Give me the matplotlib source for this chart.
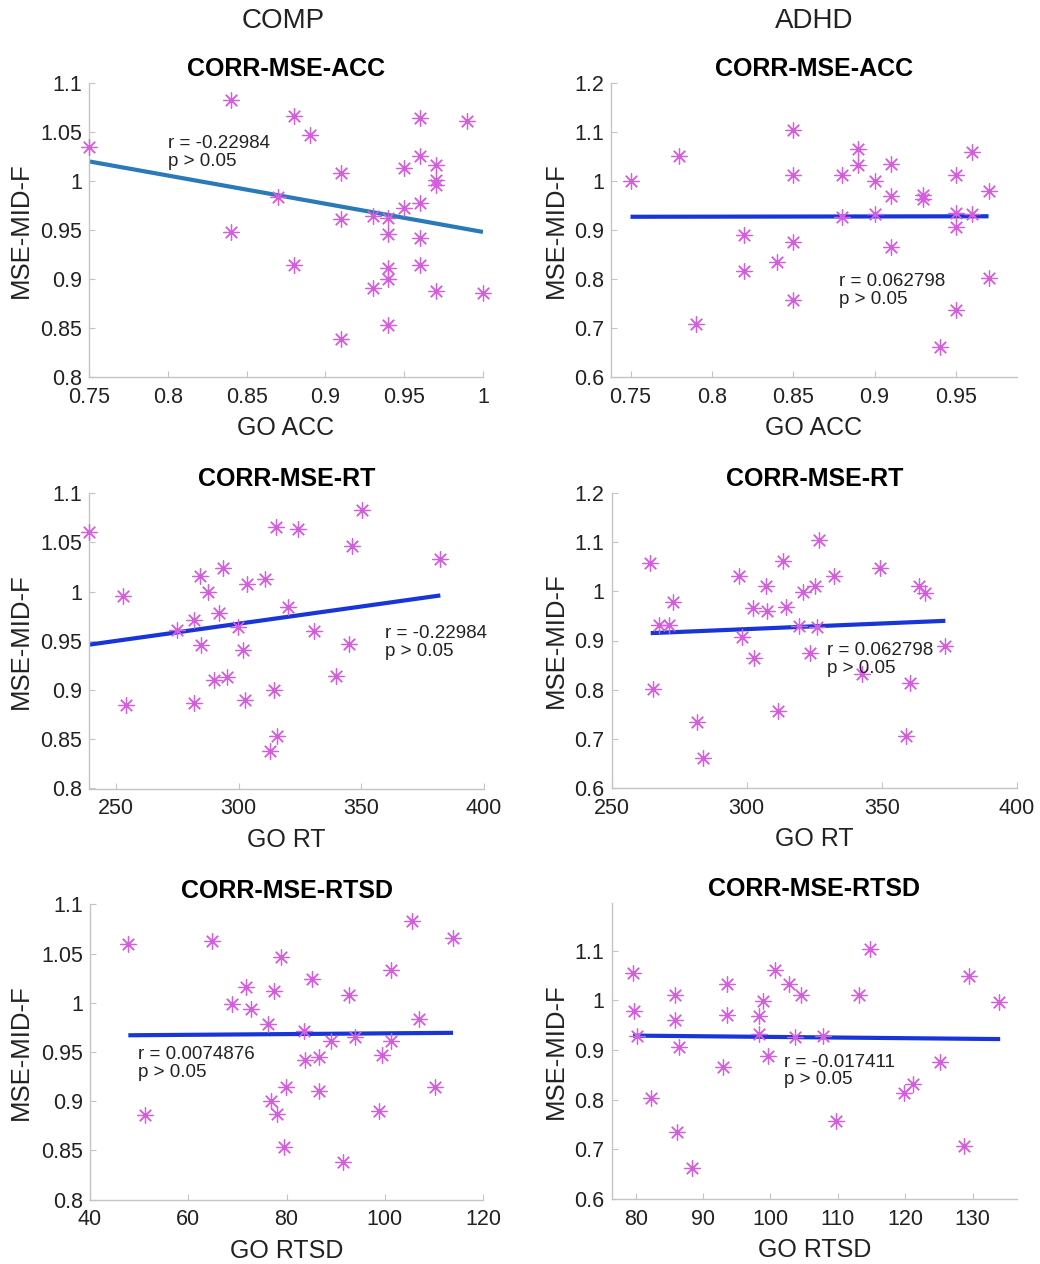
import matplotlib
matplotlib.use("Agg")
import matplotlib.pyplot as plt

plt.rcParams['font.family'] = ['Liberation Sans', 'DejaVu Sans']

# ---------------- data ----------------
column_titles = ["COMP", "ADHD"]
panel_titles = ["CORR-MSE-ACC", "CORR-MSE-RT", "CORR-MSE-RTSD"]
x_labels = ["GO ACC", "GO RT", "GO RTSD"]
y_label = "MSE-MID-F"

comp_acc_x = [0.75, 0.84, 0.84, 0.88, 0.88, 0.89, 0.87, 0.91, 0.91, 0.91, 0.93, 0.93, 0.94, 0.94, 0.94,
              0.94, 0.94, 0.95, 0.95, 0.96, 0.96, 0.96, 0.96, 0.96, 0.97, 0.97, 0.97, 0.97, 0.99, 1.00]
comp_acc_y = [1.035, 1.083, 0.948, 1.066, 0.914, 1.047, 0.984, 1.008, 0.961, 0.839, 0.964, 0.891, 0.962, 0.946, 0.911,
              0.900, 0.853, 1.013, 0.972, 1.064, 1.025, 0.978, 0.942, 0.914, 1.016, 1.001, 0.996, 0.888, 1.061, 0.886]
comp_acc_fit_x = [0.75, 1.00]
comp_acc_fit_y = [1.020, 0.948]

adhd_acc_x = [0.75, 0.78, 0.79, 0.82, 0.82, 0.84, 0.85, 0.85, 0.85, 0.85, 0.88, 0.88, 0.89, 0.89, 0.90,
              0.90, 0.91, 0.91, 0.91, 0.93, 0.93, 0.95, 0.95, 0.95, 0.95, 0.94, 0.96, 0.96, 0.97, 0.97]
adhd_acc_y = [0.999, 1.050, 0.708, 0.890, 0.816, 0.835, 1.105, 1.012, 0.876, 0.757, 1.012, 0.927, 1.065, 1.033, 1.000,
              0.932, 1.034, 0.969, 0.866, 0.971, 0.963, 1.012, 0.934, 0.907, 0.737, 0.662, 1.059, 0.932, 0.980, 0.803]
adhd_acc_fit_x = [0.75, 0.97]
adhd_acc_fit_y = [0.927, 0.928]

comp_rt_x = [239.0, 252.8, 253.9, 274.9, 281.7, 281.7, 284.3, 284.7, 287.4, 290.1, 292.1, 293.8, 295.3, 299.6, 301.6,
             302.6, 303.3, 310.7, 314.6, 315.2, 315.6, 312.9, 320.3, 324.3, 330.8, 339.8, 345.0, 346.1, 350.4, 382.0]
comp_rt_y = [1.060, 0.995, 0.885, 0.961, 0.971, 0.887, 1.016, 0.946, 0.999, 0.910, 0.978, 1.024, 0.913, 0.964, 0.941,
             0.890, 1.008, 1.013, 0.900, 1.065, 0.853, 0.838, 0.984, 1.063, 0.960, 0.914, 0.947, 1.046, 1.083, 1.033]
comp_rt_fit_x = [239.0, 382.2]
comp_rt_fit_y = [0.946, 0.996]

adhd_rt_x = [264.3, 265.5, 267.7, 271.4, 272.8, 281.5, 284.0, 297.3, 298.2, 302.5, 302.7, 307.1, 307.4, 311.7, 313.5,
             314.4, 319.5, 320.9, 323.6, 325.2, 326.1, 326.7, 332.4, 342.8, 349.5, 359.1, 360.6, 363.7, 365.9, 373.2]
adhd_rt_y = [1.058, 0.801, 0.931, 0.931, 0.978, 0.734, 0.661, 1.031, 0.907, 0.967, 0.864, 1.010, 0.961, 0.756, 1.061,
             0.969, 0.930, 0.998, 0.875, 1.010, 0.927, 1.104, 1.031, 0.831, 1.047, 0.706, 0.814, 1.010, 0.997, 0.888]
adhd_rt_fit_x = [264.5, 373.5]
adhd_rt_fit_y = [0.915, 0.940]

comp_rtsd_x = [47.8, 51.2, 64.9, 68.9, 71.7, 72.7, 76.3, 76.9, 77.5, 78.0, 78.8, 79.5, 79.8, 83.6, 83.7,
               85.2, 86.6, 86.6, 89.0, 91.5, 92.7, 93.9, 98.8, 99.5, 101.2, 101.2, 105.6, 107.0, 110.2, 113.8]
comp_rtsd_y = [1.060, 0.886, 1.063, 0.999, 1.016, 0.994, 0.978, 0.900, 1.012, 0.887, 1.047, 0.853, 0.914, 0.971, 0.942,
               1.024, 0.945, 0.910, 0.961, 0.838, 1.008, 0.965, 0.890, 0.947, 0.961, 1.033, 1.083, 0.984, 0.914, 1.066]
comp_rtsd_fit_x = [47.8, 113.9]
comp_rtsd_fit_y = [0.967, 0.9695]

adhd_rtsd_x = [79.6, 79.8, 80.2, 82.2, 85.8, 85.8, 86.1, 86.4, 88.4, 92.9, 93.5, 93.6, 98.3, 98.3, 98.9,
               99.6, 100.7, 102.8, 103.6, 104.5, 107.8, 109.8, 113.2, 114.8, 119.8, 121.1, 125.1, 128.8, 129.4, 134.0]
adhd_rtsd_y = [1.056, 0.978, 0.929, 0.803, 1.010, 0.961, 0.735, 0.907, 0.662, 0.866, 0.971, 1.032, 0.968, 0.932, 0.998,
               0.887, 1.061, 1.032, 0.926, 1.010, 0.929, 0.757, 1.010, 1.103, 0.813, 0.832, 0.875, 0.707, 1.049, 0.997]
adhd_rtsd_fit_x = [79.6, 134.1]
adhd_rtsd_fit_y = [0.929, 0.922]

stat_texts = [["r = -0.22984\np > 0.05", "r = 0.062798\np > 0.05"],
              ["r = -0.22984\np > 0.05", "r = 0.062798\np > 0.05"],
              ["r = 0.0074876\np > 0.05", "r = -0.017411\np > 0.05"]]
stat_pos = [[(0.80, 1.029), (0.878, 0.776)],
            [(359.5, 0.948), (329.9, 0.861)],
            [(49.8, 0.938), (102.05, 0.858)]]

# axis configuration (limits and tick values / labels)
xlims = [[(0.75, 1.0), (0.738, 0.9875)],
         [(239.0, 400), (250, 400)],
         [(40, 120), (76.4, 136.6)]]
xticks = [[[0.75, 0.8, 0.85, 0.9, 0.95, 1.0], [0.75, 0.8, 0.85, 0.9, 0.95]],
          [[250, 300, 350, 400], [250, 300, 350, 400]],
          [[40, 60, 80, 100, 120], [80, 90, 100, 110, 120, 130]]]
xticklabels = [[["0.75", "0.8", "0.85", "0.9", "0.95", "1"], ["0.75", "0.8", "0.85", "0.9", "0.95"]],
               [["250", "300", "350", "400"], ["250", "300", "350", "400"]],
               [["40", "60", "80", "100", "120"], ["80", "90", "100", "110", "120", "130"]]]
ylims = [(0.8, 1.1), (0.6, 1.2)]
yticks_comp = [0.8, 0.85, 0.9, 0.95, 1.0, 1.05, 1.1]
yticklabels_comp = ["0.8", "0.85", "0.9", "0.95", "1", "1.05", "1.1"]
yticks_adhd = [0.6, 0.7, 0.8, 0.9, 1.0, 1.1, 1.2]
yticklabels_adhd = ["0.6", "0.7", "0.8", "0.9", "1", "1.1", "1.2"]

series = [[(comp_acc_x, comp_acc_y, comp_acc_fit_x, comp_acc_fit_y),
           (adhd_acc_x, adhd_acc_y, adhd_acc_fit_x, adhd_acc_fit_y)],
          [(comp_rt_x, comp_rt_y, comp_rt_fit_x, comp_rt_fit_y),
           (adhd_rt_x, adhd_rt_y, adhd_rt_fit_x, adhd_rt_fit_y)],
          [(comp_rtsd_x, comp_rtsd_y, comp_rtsd_fit_x, comp_rtsd_fit_y),
           (adhd_rtsd_x, adhd_rtsd_y, adhd_rtsd_fit_x, adhd_rtsd_fit_y)]]

# ---------------- layout ----------------
W, H = 1040, 1264
fig = plt.figure(figsize=(W / 100, H / 100), dpi=100)

# pixel boxes: (left, right, top, bottom)
boxes = [[(89, 483, 83, 377), (611, 1017, 83, 377)],
         [(89, 484, 493, 788.5), (611.5, 1017, 493, 788)],
         [(90, 483, 904.5, 1199.5), (611.5, 1017, 903, 1199)]]

marker_color = "#d65ce0"
line_colors = [["#2a7ab8", "#1836d8"], ["#1836d8", "#1836d8"], ["#1836d8", "#1836d8"]]
spine_color = "#c4c4c4"
text_color = "#222222"

for r in range(3):
    for c in range(2):
        l, rr, t, b = boxes[r][c]
        ax = fig.add_axes([l / W, 1 - b / H, (rr - l) / W, (b - t) / H])
        sx, sy, fx, fy = series[r][c]
        ax.plot(fx, fy, color=line_colors[r][c], linewidth=3.0, solid_capstyle='butt', zorder=2)
        ax.plot(sx, sy, linestyle='none', marker=(8, 2, 0), markersize=11.5,
                markeredgecolor=marker_color, markerfacecolor=marker_color,
                markeredgewidth=0.9, clip_on=False, zorder=3)
        ax.set_xlim(*xlims[r][c])
        ax.set_ylim(*ylims[c])
        if r == 2 and c == 1:
            ax.set_ylim(0.6, 1.196)
        ax.set_xticks(xticks[r][c])
        ax.set_xticklabels(xticklabels[r][c])
        if c == 0:
            ax.set_yticks(yticks_comp)
            ax.set_yticklabels(yticklabels_comp)
        else:
            if r == 2:
                ax.set_yticks(yticks_adhd[:-1])
                ax.set_yticklabels(yticklabels_adhd[:-1])
            else:
                ax.set_yticks(yticks_adhd)
                ax.set_yticklabels(yticklabels_adhd)
        for s in ["top", "right"]:
            ax.spines[s].set_visible(False)
        for s in ["left", "bottom"]:
            ax.spines[s].set_color(spine_color)
            ax.spines[s].set_linewidth(1.0)
        ax.tick_params(direction='in', length=4, width=0.8, color=spine_color,
                       labelcolor=text_color, labelsize=15.5)
        ax.tick_params(axis='x', pad=7)
        ax.tick_params(axis='y', pad=5)
        ax.set_title(panel_titles[r], fontsize=18, fontweight='bold', color='black', pad=5)
        ax.set_xlabel(x_labels[r], fontsize=18, color=text_color)
        ax.set_ylabel(y_label, fontsize=18.5, color=text_color)
        ax.xaxis.set_label_coords(0.5, -(428 - 377) / 294)
        ax.xaxis.label.set_verticalalignment('center')
        xl = (21 - l) / (rr - l) if c == 0 else (556 - l) / (rr - l)
        ax.yaxis.set_label_coords(xl, 0.5)
        ax.yaxis.label.set_verticalalignment('center')
        tx, ty = stat_pos[r][c]
        ax.text(tx, ty, stat_texts[r][c], fontsize=13.5, color=text_color,
                ha='left', va='center', linespacing=1.05, zorder=4)

fig.text(283 / W, 1 - 21 / H, column_titles[0], fontsize=20, ha='center', va='center', color=text_color)
fig.text(814 / W, 1 - 21 / H, column_titles[1], fontsize=20, ha='center', va='center', color=text_color)

fig.savefig("out.png", dpi=100, facecolor='white')
